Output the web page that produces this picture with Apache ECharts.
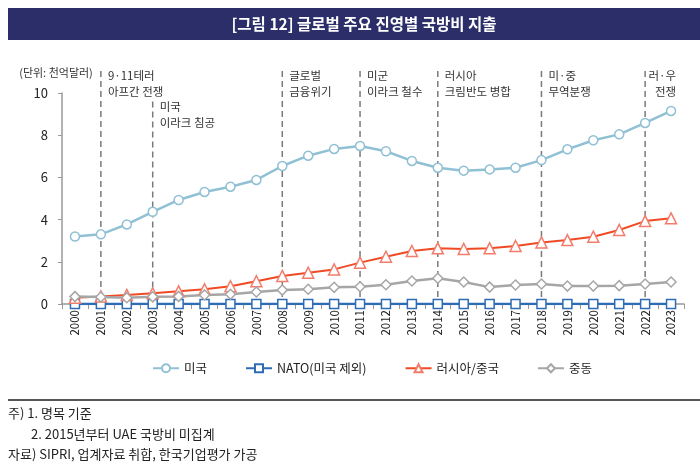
<!DOCTYPE html>
<html><head><meta charset="utf-8">
<script src="https://cdn.jsdelivr.net/npm/echarts@6/dist/echarts.min.js"></script>
<style>html,body{margin:0;padding:0;background:#fff}#c{width:700px;height:462px}</style>
</head><body><div id="c"></div>
<script>
const years = ['2000','2001','2002','2003','2004','2005','2006','2007','2008','2009','2010','2011','2012','2013','2014','2015','2016','2017','2018','2019','2020','2021','2022','2023'];
const usa = [3.2,3.3,3.77,4.37,4.93,5.31,5.56,5.88,6.54,7.03,7.35,7.49,7.24,6.78,6.46,6.32,6.38,6.46,6.82,7.33,7.76,8.04,8.58,9.15];
const nato = [0,0,0,0,0,0,0,0,0,0,0,0,0,0,0,0,0,0,0,0,0,0,0,0];
const rusChina = [0.3,0.36,0.43,0.51,0.6,0.7,0.84,1.08,1.33,1.48,1.64,1.96,2.24,2.51,2.64,2.61,2.64,2.75,2.92,3.03,3.19,3.51,3.93,4.06];
const mideast = [0.35,0.33,0.3,0.34,0.36,0.43,0.46,0.57,0.66,0.7,0.79,0.82,0.91,1.09,1.22,1.04,0.8,0.9,0.95,0.85,0.85,0.87,0.95,1.04];
const seriesNames = ['미국','NATO(미국 제외)','러시아/중국','중동'];
const eventYears = ['2001','2003','2008','2011','2014','2018','2022'];
const eventLabels = ['9·11테러\n아프간 전쟁','미국\n이라크 침공','글로벌\n금융위기','미군\n이라크 철수','러시아\n크림반도 병합','미·중\n무역분쟁','러·우\n전쟁'];
const eventTops = [11.04,9.6,11.04,11.04,11.04,11.04,11.04];
const yTicks = [0,2,4,6,8,10];
const titleText = '[그림 12] 글로벌 주요 진영별 국방비 지출';
const unitText = '(단위: 천억달러)';
const notes = ['주) 1. 명목 기준','2. 2015년부터 UAE 국방비 미집계','자료) SIPRI, 업계자료 취합, 한국기업평가 가공'];

const FONT = '"Noto Sans CJK KR", "Noto Sans", sans-serif';
const chart = echarts.init(document.getElementById('c'), null, {renderer:'canvas'});

function mkSeries(name, data, symbol, size, lineColor, borderColor, width) {
  return {
    name, type:'line', data, symbol, symbolSize:size, showSymbol:true,
    lineStyle:{color:lineColor, width},
    itemStyle:{color:'#fff', borderColor, borderWidth:1.5},
    emphasis:{disabled:true}, animation:false, z: 3
  };
}
const s0 = mkSeries(seriesNames[0], usa, 'circle', 9, '#90c0d4', '#90c0d4', 2.5);
const s1 = mkSeries(seriesNames[1], nato, 'rect', 9, '#2e6cb5', '#2e6cb5', 2.5);
const s2 = mkSeries(seriesNames[2], rusChina, 'triangle', 11, '#f04a24', '#f27c6c', 2);
const s3 = mkSeries(seriesNames[3], mideast, 'diamond', 10, '#a6a6a6', '#a6a6a6', 2.5);

const eventSeries = {
  type:'custom', name:'events', z:1, silent:true, clip:false, animation:false,
  data: eventYears.map((y,i)=>[y, eventTops[i]]),
  encode:{x:0, y:1},
  renderItem:(params, api)=>{
    const idx = params.dataIndex;
    const cat = api.value(0);
    const top = api.coord([cat, api.value(1)]);
    const bot = api.coord([cat, 0]);
    const last = idx === eventYears.length-1;
    const endPt = api.coord([years.length-1, api.value(1)]);
    return {
      type:'group',
      children:[
        {type:'line', shape:{x1:top[0], y1:top[1], x2:bot[0], y2:bot[1]},
         style:{stroke:'#7a7a7a', lineWidth:1.5, lineDash:[6,4]}},
        {type:'text', x: last ? endPt[0]+5 : top[0]+7, y: top[1]+13,
         style:{text:eventLabels[idx], fill:'#333', font:'11.5px '+FONT, lineHeight:16,
                textAlign: last ? 'right':'left', textVerticalAlign:'middle'}}
      ]
    };
  }
};

chart.setOption({
  animation:false,
  textStyle:{fontFamily:FONT},
  graphic:[
    {type:'rect', shape:{x:8,y:8,width:700,height:32}, style:{fill:'#2b2e69'}},
    {type:'text', x:364, y:24, style:{text:titleText, fill:'#fff', font:'bold 15.5px '+FONT, textAlign:'center', textVerticalAlign:'middle'}},
    {type:'line', shape:{x1:8,y1:400,x2:700,y2:400}, style:{stroke:'#555', lineWidth:2}},
    {type:'text', x:8, y:413, style:{text:notes[0], fill:'#222', font:'13px '+FONT, textVerticalAlign:'middle'}},
    {type:'text', x:31, y:434, style:{text:notes[1], fill:'#222', font:'13px '+FONT, textVerticalAlign:'middle'}},
    {type:'text', x:8, y:454, style:{text:notes[2], fill:'#222', font:'13px '+FONT, textVerticalAlign:'middle'}}
  ],
  legend:{
    data: seriesNames, left:147, top:357, itemWidth:26, itemHeight:10, itemGap:38,
    textStyle:{fontSize:12.5, color:'#222', fontFamily:FONT}
  },
  grid:{left:62, right:16, top:93, bottom:158, containLabel:false},
  xAxis:{
    type:'category', data:years, boundaryGap:true,
    axisLine:{lineStyle:{color:'#999', width:1.5}},
    axisTick:{show:true, length:5, lineStyle:{color:'#999'}},
    axisLabel:{rotate:90, fontSize:11.5, color:'#222', margin:6, interval:0, fontFamily:FONT}
  },
  yAxis:{
    type:'value', min:0, max:10, interval:2,
    name: unitText, nameLocation:'end', nameGap:15,
    nameTextStyle:{fontSize:11, color:'#333', align:'center', padding:[0,12,0,0], fontFamily:FONT},
    axisLine:{show:true, lineStyle:{color:'#999', width:1.5}},
    axisTick:{show:true, length:4, lineStyle:{color:'#999'}},
    splitLine:{show:false},
    axisLabel:{fontSize:13, color:'#222', margin:14, fontFamily:FONT,
      formatter:v=> yTicks.includes(v) ? String(v) : ''}
  },
  series:[eventSeries, s0, s1, s2, s3]
});
</script></body></html>
